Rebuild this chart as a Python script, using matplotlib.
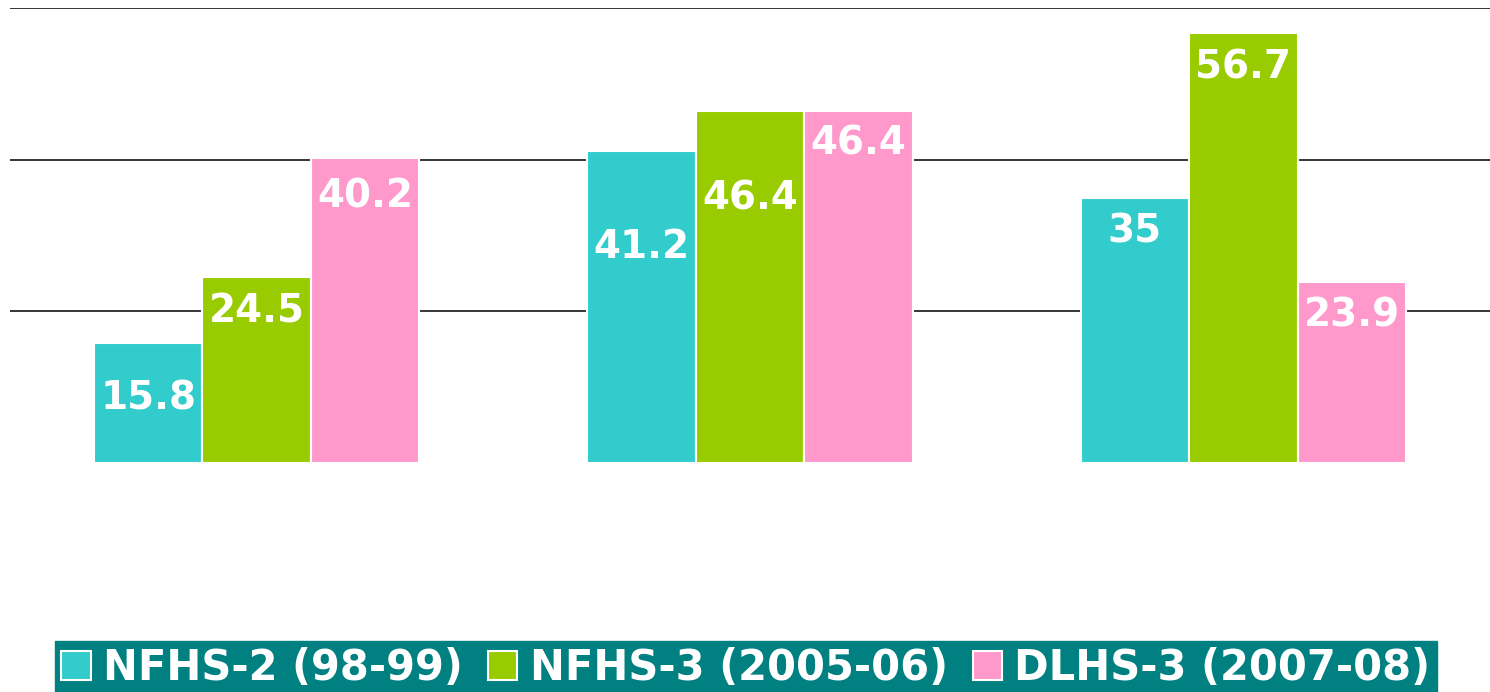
import matplotlib
matplotlib.use("Agg")
import matplotlib.pyplot as plt
import numpy as np

groups = ["Group 1", "Group 2", "Group 3"]
series_names = ["NFHS-2 (98-99)", "NFHS-3 (2005-06)", "DLHS-3 (2007-08)"]
nfhs2 = [15.8, 41.2, 35]
nfhs3 = [24.5, 46.4, 56.7]
dlhs3 = [40.2, 46.4, 23.9]
colors = ["#33CCCC", "#99CC00", "#FF99CC"]
yticks = [20, 40, 60]

# label distance below bar top (pixels), per series per group
label_offsets = [[55, 96, 34], [34, 87, 34], [38, 32, 34]]

fig = plt.figure(figsize=(14.9, 6.92), dpi=100)
ax = fig.add_axes([10 / 1490, (692 - 463) / 692, 1480 / 1490, (463 - 8) / 692])

x = np.arange(len(groups))
width = 0.22
series = [nfhs2, nfhs3, dlhs3]
for i, (vals, col, name) in enumerate(zip(series, colors, series_names)):
    xs = x + (i - 1) * width
    bars = ax.bar(xs, vals, width, color=col, edgecolor="white", linewidth=1.5,
                  label=name, zorder=3)
    for xi, v, off in zip(xs, vals, label_offsets[i]):
        ax.annotate(f"{v:g}", (xi, v), xytext=(0, -off), textcoords="offset pixels",
                    ha="center", va="center", color="white", fontsize=28,
                    fontweight="bold", family="DejaVu Sans", zorder=4)

ax.set_xlim(-0.5, 2.5)
ax.set_ylim(0, 60)
ax.set_yticks(yticks)
ax.yaxis.grid(True, color="black", linewidth=1.1, zorder=0)
ax.set_axisbelow(True)
ax.tick_params(left=False, bottom=False, labelleft=False, labelbottom=False)
for s in ax.spines.values():
    s.set_visible(False)
ax.set_clip_on(False)

leg = fig.legend(loc="lower center", bbox_to_anchor=(0.5007, -0.005), ncol=3,
                 frameon=True, fancybox=False, facecolor="#008080", edgecolor="#008080",
                 framealpha=1, prop={"family": "DejaVu Sans", "weight": "bold", "size": 30},
                 handlelength=0.7, handleheight=0.7, handletextpad=0.3,
                 columnspacing=0.6, borderpad=0.15, borderaxespad=0)
for t in leg.get_texts():
    t.set_color("white")

fig.savefig("out.png", dpi=100)
